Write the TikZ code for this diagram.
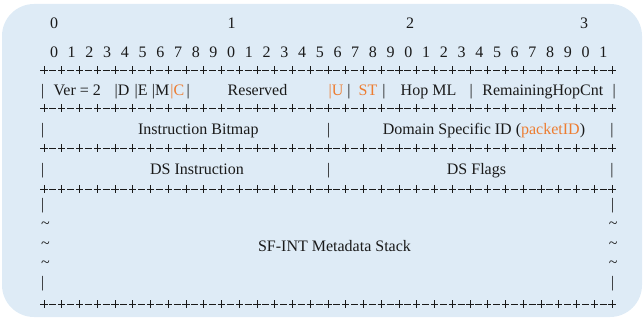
\documentclass[tikz,border=0pt]{standalone}
\usepackage{fontspec}
\setmainfont{Liberation Serif}
\definecolor{panel}{HTML}{DEEBF6}
\definecolor{ink}{HTML}{1A1A1A}
\definecolor{accent}{HTML}{ED7D31}
\tikzset{
  glyph/.style={font=\fontsize{16}{19}\selectfont, text=ink, inner sep=0pt, anchor=base},
  glyphw/.style={glyph, anchor=base west},
  hl/.style={text=accent},
  sepline/.style={draw=ink, line width=0.85pt}
}
\begin{document}
\begin{tikzpicture}[x=1pt,y=-1pt]
\useasboundingbox (0,0) rectangle (644,320);
% panel
\fill[panel, rounded corners=32pt] (2,4) rectangle (642,317);

% bit-number header
\node[glyph] (h0) at (54,28.3) {0};
\node[glyph] (h1) at (231.7,28.3) {1};
\node[glyph] (h2) at (410,28.3) {2};
\node[glyph] (h3) at (584,28.3) {3};
\foreach \i in {0,...,31} {
  \pgfmathtruncatemacro\d{mod(\i,10)}
  \node[glyph] (d\i) at ({54+17.72*\i},57.3) {\d};
}

% +-+-+ separator lines, one per word boundary
\foreach \yy in {70,108,148,189,304} {
  \foreach \i in {0,...,32} {
    \pgfmathsetmacro\xx{44+17.75*\i}
    \path[sepline] (\xx-3.6,\yy) -- (\xx+3.6,\yy)
                   (\xx,\yy-3.6) -- (\xx,\yy+3.6);
  }
  \foreach \i in {0,...,31} {
    \pgfmathsetmacro\xx{52.875+17.75*\i}
    \path[sepline] (\xx-3.4,\yy) -- (\xx+3.4,\yy);
  }
}

% word 0: flags and counters
\node[glyph] (r1a) at (42.7,95.3) {|};
\node[glyph] (ver) at (77.3,95.3) {Ver = 2};
\node[glyphw] (fd) at (114.4,95.3) {|D};
\node[glyphw] (fe) at (134.4,95.3) {|E};
\node[glyphw] (fm) at (151.7,95.3) {|M};
\node[glyphw, hl] (fc) at (170.1,95.3) {|C};
\node[glyph] (r1b) at (188.3,95.3) {|};
\node[glyph] (res) at (257.5,95.3) {Reserved};
\node[glyphw, hl] (fu) at (328.4,95.3) {|U};
\node[glyph] (r1c) at (349,95.3) {|};
\node[glyph, hl] (st) at (368,95.3) {ST};
\node[glyph] (r1d) at (384,95.3) {|};
\node[glyph] (hop) at (428.5,95.3) {Hop ML};
\node[glyph] (r1e) at (471.3,95.3) {|};
\node[glyph] (rhc) at (542.8,95.3) {RemainingHopCnt};
\node[glyph] (r1f) at (614.3,95.3) {|};

% word 1
\node[glyph] (r2a) at (42.7,134.3) {|};
\node[glyph] (ib) at (198.3,134.3) {Instruction Bitmap};
\node[glyph] (r2b) at (328.7,134.3) {|};
\node[glyph] (dsid) at (484,134.3) {Domain Specific ID (\textcolor{accent}{packetID})};
\node[glyph] (r2c) at (612,134.3) {|};

% word 2
\node[glyph] (r3a) at (42.7,174.5) {|};
\node[glyph] (dsi) at (197,174.5) {DS Instruction};
\node[glyph] (r3b) at (328.7,174.5) {|};
\node[glyph] (dsf) at (476.5,174.5) {DS Flags};
\node[glyph] (r3c) at (612,174.5) {|};

% metadata stack
\node[glyph] (sl1) at (42.7,209.5) {|};
\node[glyph] (sl2) at (45.5,228) {\char"007E};
\node[glyph] (sl3) at (45.5,248) {\char"007E};
\node[glyph] (sl4) at (45.5,267) {\char"007E};
\node[glyph] (sl5) at (42.7,287) {|};
\node[glyph] (sr1) at (612.7,209.5) {|};
\node[glyph] (sr2) at (613.3,228) {\char"007E};
\node[glyph] (sr3) at (613.3,248) {\char"007E};
\node[glyph] (sr4) at (613.3,267) {\char"007E};
\node[glyph] (sr5) at (612.7,287) {|};
\node[glyph] (stack) at (334.5,251.3) {SF-INT Metadata Stack};
\end{tikzpicture}
\end{document}
